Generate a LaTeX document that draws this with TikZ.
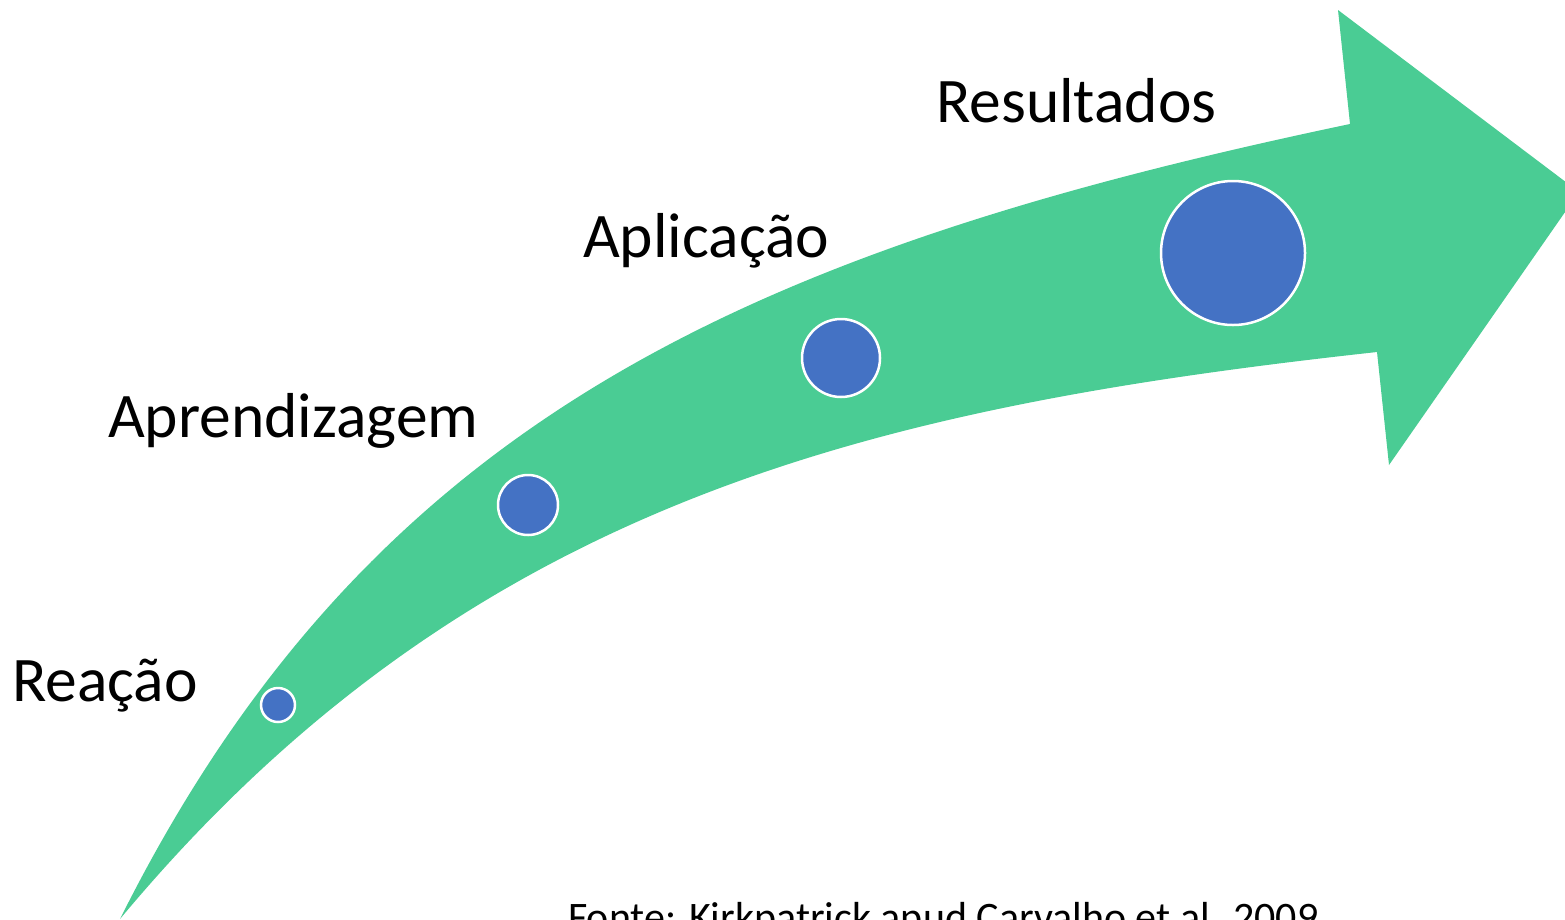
\documentclass[tikz,border=0pt]{standalone}
\usepackage{fontspec}
\setmainfont{Carlito}
\definecolor{arrowgreen}{HTML}{4ACC94}
\definecolor{dotblue}{HTML}{4472C4}
\begin{document}
\begin{tikzpicture}[x=1pt,y=-1pt,
  dot/.style={circle, fill=dotblue, draw=white, line width=2.5pt, inner sep=0pt},
  lbl/.style={anchor=base west, inner sep=0pt, font=\fontsize{63.5}{74}\selectfont},
  src/.style={anchor=base west, inner sep=0pt, font=\fontsize{42}{50}\selectfont}]
\useasboundingbox (0,0) rectangle (1565,919);
\clip (0,0) rectangle (1565,919);
\fill[arrowgreen] (120,919) .. controls (370,419) and (750,250) .. (1350,124)
  -- (1338,10) -- (1579,192) -- (1389,465) -- (1377,352)
  .. controls (877,407) and (470,499) .. (120,919) -- cycle;
\node[dot, minimum size=34] (c1) at (278,705) {};
\node[dot, minimum size=60] (c2) at (528,505) {};
\node[dot, minimum size=78] (c3) at (841,358) {};
\node[dot, minimum size=144] (c4) at (1233,253) {};
\node[lbl] (reacao) at (12,701) {Reação};
\node[lbl] (aprend) at (108,437) {Aprendizagem};
\node[lbl] (aplic) at (583,257) {Aplicação};
\node[lbl] (result) at (936,122) {Resultados};
\node[src] (fonte) at (568,931) {Fonte: Kirkpatrick apud Carvalho et al. 2009};
\end{tikzpicture}
\end{document}
